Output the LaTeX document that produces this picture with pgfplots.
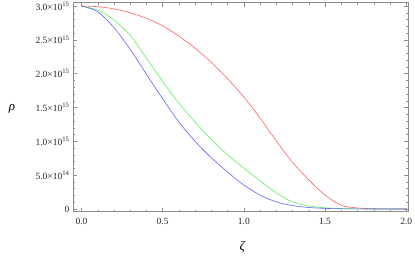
\documentclass[border=0pt]{standalone}
\usepackage{fontspec}
\setmainfont{Liberation Serif}
\usepackage{pgfplots}
\pgfplotsset{compat=1.18}
\definecolor{cred}{rgb}{1,0.38,0.38}
\definecolor{cgreen}{rgb}{0.35,0.95,0.35}
\definecolor{cblue}{rgb}{0.38,0.38,1}
\definecolor{framegray}{gray}{0.55}
\begin{document}
\begin{tikzpicture}
\path[use as bounding box] (0,0) rectangle (415pt,257pt);
\begin{axis}[
  at={(73pt,45.3pt)}, anchor=south west,
  scale only axis, width=335pt, height=209pt,
  xmin=-0.0523, xmax=2.011,
  ymin=-0.04e15, ymax=3.049e15,
  axis line style={framegray, line width=0.5pt},
  tick style={framegray, line width=0.4pt},
  major tick length=4pt, minor tick length=2pt,
  tick align=inside,
  xtick={0,0.5,1,1.5,2},
  xticklabels={0.0,0.5,1.0,1.5,2.0},
  minor x tick num=4,
  ytick={0,0.5e15,1e15,1.5e15,2e15,2.5e15,3e15},
  yticklabels={0,5.0×10\textsuperscript{14},1.0×10\textsuperscript{15},1.5×10\textsuperscript{15},2.0×10\textsuperscript{15},2.5×10\textsuperscript{15},3.0×10\textsuperscript{15}},
  minor y tick num=4,
  scaled y ticks=false,
  ticklabel style={font=\fontsize{9.5}{11}\selectfont, text=black!85},
  xticklabel style={yshift=-3pt},
  xlabel={\itshape ζ},
  ylabel={\itshape ρ},
  xlabel style={at={(rel axis cs:0.505,-0.168)}, anchor=center, font=\fontsize{13}{15}\selectfont},
  ylabel style={at={(rel axis cs:-0.182,0.491)}, anchor=center, rotate=-90, font=\fontsize{13}{15}\selectfont},
]
\addplot[cred, line width=0.6pt, smooth] coordinates {
(0.0,3.000e15) (0.1,2.990e15) (0.2,2.958e15) (0.3,2.900e15) (0.4,2.818e15)
(0.5,2.706e15) (0.6,2.555e15) (0.7,2.375e15) (0.8,2.165e15) (0.9,1.925e15)
(1.0,1.655e15) (1.1,1.345e15) (1.2,1.005e15) (1.3,0.690e15) (1.4,0.430e15)
(1.5,0.205e15) (1.6,0.055e15) (1.7,0.015e15) (1.8,0.004e15) (1.9,0.001e15) (2.0,0)
};
\addplot[cgreen, line width=0.6pt, smooth] coordinates {
(0.0,3.000e15) (0.1,2.940e15) (0.2,2.795e15) (0.3,2.565e15) (0.4,2.230e15)
(0.5,1.885e15) (0.6,1.565e15) (0.7,1.283e15) (0.8,1.027e15) (0.9,0.800e15)
(1.0,0.603e15) (1.1,0.418e15) (1.2,0.238e15) (1.3,0.105e15) (1.4,0.044e15)
(1.5,0.018e15) (1.6,0.006e15) (1.7,0.002e15) (1.8,0.0005e15) (2.0,0)
};
\addplot[cblue, line width=0.6pt, smooth] coordinates {
(0.0,3.000e15) (0.1,2.915e15) (0.2,2.680e15) (0.3,2.360e15) (0.4,1.990e15)
(0.5,1.630e15) (0.6,1.285e15) (0.7,1.000e15) (0.8,0.755e15) (0.9,0.545e15)
(1.0,0.355e15) (1.1,0.205e15) (1.2,0.105e15) (1.3,0.050e15) (1.4,0.022e15)
(1.5,0.009e15) (1.6,0.003e15) (1.7,0.001e15) (1.8,0.0003e15) (2.0,0)
};
\end{axis}
\end{tikzpicture}
\end{document}
